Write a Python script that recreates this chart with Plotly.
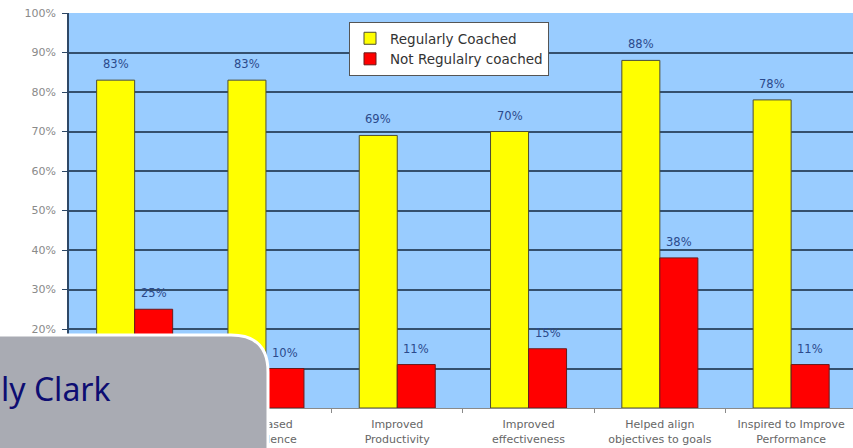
import plotly.graph_objects as go

categories = ["Increased<br>Motivation", "Increased<br>Confidence", "Improved<br>Productivity",
              "Improved<br>effectiveness", "Helped align<br>objectives to goals",
              "Inspired to Improve<br>Performance"]
regular = [83, 83, 69, 70, 88, 78]
not_regular = [25, 10, 11, 15, 38, 11]
series_names = ["Regularly Coached", "Not Regulalry coached"]
y_ticks = list(range(0, 101, 10))
y_tick_text = [f"{v}%" for v in y_ticks]
grid_vals = list(range(10, 100, 10))

# plot-area pixel geometry
W, H = 853, 448
L, R, T, B = 69, 853, 13, 408
PW, PH = R - L, B - T


def xp(px):
    return (px - L) / PW


def yp(py):
    return (B - py) / PH


fig = go.Figure()
fig.add_trace(go.Bar(x=categories, y=regular, name=series_names[0],
                     marker=dict(color="#FFFF00", line=dict(color="#4d4d33", width=1))))
fig.add_trace(go.Bar(x=categories, y=not_regular, name=series_names[1],
                     marker=dict(color="#FF0000", line=dict(color="#6b1a1a", width=1))))

annotations = []
for vals, shift in ((regular, -19), (not_regular, 19)):
    for c, v in zip(categories, vals):
        annotations.append(dict(x=c, y=v, xref="x", yref="y", text=f"{v}%", showarrow=False,
                                xshift=shift, yshift=16, yanchor="middle",
                                font=dict(family="DejaVu Sans", size=11.5, color="#2b4a8c")))

# overlay caption box
x0, xr, r = xp(-20), xp(268), 37
path = (f"M {x0},{yp(470)} L {x0},{yp(335)} L {xp(268 - r)},{yp(335)} "
        f"Q {xr},{yp(335)} {xr},{yp(335 + r)} L {xr},{yp(470)} Z")
shapes = [dict(type="path", xref="paper", yref="paper", path=path,
               fillcolor="#A9ABB3", line=dict(color="white", width=3), layer="above")]
annotations.append(dict(x=xp(-1), y=yp(388), xref="paper", yref="paper", text="ly Clark",
                        showarrow=False, xanchor="left", yanchor="middle",
                        font=dict(family="Noto Sans", size=32, color="#0D0D72")))

fig.update_layout(
    width=W, height=H,
    margin=dict(l=L, r=W - R, t=T, b=H - B, autoexpand=False),
    paper_bgcolor="white", plot_bgcolor="#99CCFF",
    barmode="group", bargap=0.421, bargroupgap=0,
    showlegend=True,
    legend=dict(x=xp(349), y=yp(22), xanchor="left", yanchor="top",
                bgcolor="white", bordercolor="#555555", borderwidth=1,
                font=dict(family="DejaVu Sans", size=13.5, color="#333333"),
                itemwidth=30, tracegroupgap=0),
    annotations=annotations, shapes=shapes,
    font=dict(family="DejaVu Sans"),
)
fig.update_xaxes(type="category", range=[-0.5, -0.5 + PW / 131.3], tickangle=0,
                 showline=True, linecolor="#8a8a8a", linewidth=1,
                 ticks="outside", tickson="boundaries", ticklen=4, tickcolor="#8a8a8a",
                 ticklabelstandoff=6,
                 tickfont=dict(family="DejaVu Sans", size=11, color="#666666"),
                 showgrid=False, automargin=False)
fig.update_yaxes(range=[0, 100], tickvals=y_ticks, ticktext=y_tick_text,
                 showline=True, linecolor="#2e4866", linewidth=1.5,
                 ticks="outside", ticklen=5, tickcolor="#2e4866",
                 ticklabelstandoff=4,
                 tickfont=dict(family="DejaVu Sans", size=11, color="#8a8a8a"),
                 showgrid=False,
                 minor=dict(tickvals=grid_vals, showgrid=True, gridcolor="#34506e",
                            gridwidth=1.5, ticks=""),
                 zeroline=False, automargin=False)

fig.write_html("out.html")
